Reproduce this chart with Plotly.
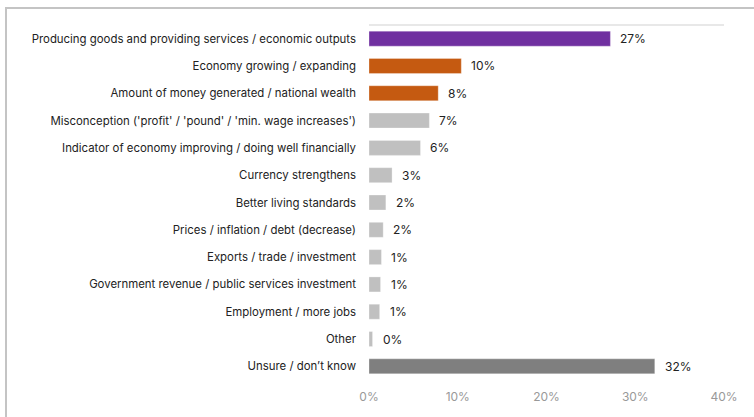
import plotly.graph_objects as go

# Survey responses: what people think "GDP" / economic growth means
categories = [
    "Producing goods and providing services / economic outputs",
    "Economy growing / expanding",
    "Amount of money generated / national wealth",
    "Misconception ('profit' / 'pound' / 'min. wage increases')",
    "Indicator of economy improving / doing well financially",
    "Currency strengthens",
    "Better living standards",
    "Prices / inflation / debt (decrease)",
    "Exports / trade / investment",
    "Government revenue / public services investment",
    "Employment / more jobs",
    "Other",
    "Unsure / don\u2019t know",
]
values = [27.2, 10.4, 7.8, 6.8, 5.8, 2.6, 1.9, 1.6, 1.4, 1.3, 1.2, 0.4, 32.2]
groups = ["correct", "partial", "partial", "other", "other", "other", "other",
          "other", "other", "other", "other", "other", "unsure"]
group_colors = {
    "correct": "#7030A0",
    "partial": "#C55A11",
    "other": "#C0C0C0",
    "unsure": "#7F7F7F",
}
tick_vals = [0, 10, 20, 30, 40]
tick_text = ["0%", "10%", "20%", "30%", "40%"]

FONT = "Inter"
FS = 11.4
W, H = 754, 417
L, R, T, B = 369, 30, 25, 37

fig = go.Figure(
    go.Bar(
        x=values,
        y=categories,
        orientation="h",
        marker=dict(color=[group_colors[g] for g in groups],
                    line=dict(color="rgba(255,255,255,0.6)", width=0.5)),
        hoverinfo="skip",
    )
)

# value labels just right of each bar
for c, v in zip(categories, values):
    fig.add_annotation(
        x=v, y=c, xref="x", yref="y",
        text=f"{v:.0f}%", showarrow=False,
        xanchor="left", yanchor="middle", xshift=8,
        font=dict(family=FONT, size=12, color="#222222"),
    )

pw = W - L - R
ph = H - T - B
# outer frame (top and left edges visible)
fig.add_shape(
    type="rect", xref="paper", yref="paper",
    x0=(6 - L) / pw, x1=1.3, y0=-0.3, y1=(H - B - 8) / ph,
    line=dict(color="#c4c4c4", width=2), layer="below",
)
# thin rule along the top of the plot area
fig.add_shape(
    type="line", xref="paper", yref="paper",
    x0=0, x1=1, y0=1, y1=1,
    line=dict(color="#e0e0e0", width=1.5),
)

fig.update_layout(
    width=W, height=H,
    margin=dict(l=L, r=R, t=T, b=B),
    paper_bgcolor="white", plot_bgcolor="white",
    bargap=0.45,
    showlegend=False,
    font=dict(family=FONT, size=FS, color="#222222"),
    xaxis=dict(
        range=[0, 40], tickvals=tick_vals, ticktext=tick_text,
        showgrid=False, zeroline=False, showline=False,
        tickfont=dict(family=FONT, size=12, color="#999999"),
        ticklabelstandoff=8,
    ),
    yaxis=dict(
        autorange="reversed", showgrid=False, zeroline=False, showline=False,
        tickfont=dict(family=FONT, size=FS, color="#222222"),
        ticklabelstandoff=12,
    ),
)

fig.write_html("out.html")
